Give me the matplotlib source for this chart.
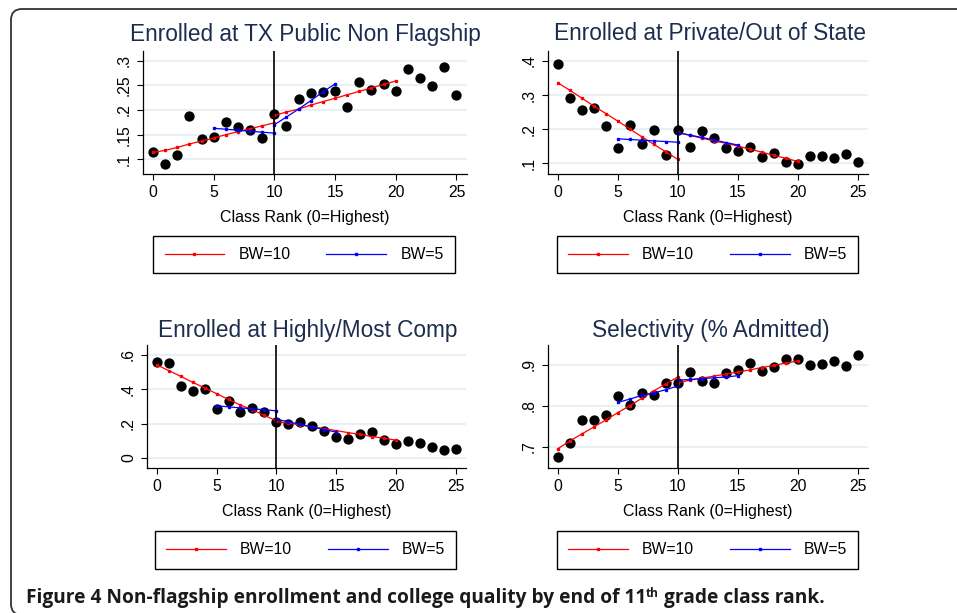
import numpy as np
import matplotlib
matplotlib.use("Agg")
import matplotlib.pyplot as plt
from matplotlib.patches import FancyBboxPatch
from matplotlib.transforms import IdentityTransform

# ---- data ----
rank = list(range(26))
rank_left10 = list(range(0, 11))
rank_right10 = list(range(10, 21))
rank_left5 = list(range(5, 11))
rank_right5 = list(range(10, 16))

titles = ["Enrolled at TX Public Non Flagship",
          "Enrolled at Private/Out of State",
          "Enrolled at Highly/Most Comp",
          "Selectivity (% Admitted)"]

# binned means (black dots)
txpublic_means = [0.114, 0.090, 0.108, 0.187, 0.142, 0.145, 0.175, 0.166, 0.160, 0.144,
                  0.191, 0.168, 0.223, 0.234, 0.236, 0.238, 0.206, 0.257, 0.240, 0.252,
                  0.238, 0.284, 0.265, 0.248, 0.288, 0.230]
private_means = [0.392, 0.292, 0.256, 0.262, 0.210, 0.146, 0.212, 0.156, 0.198, 0.124,
                 0.197, 0.149, 0.195, 0.175, 0.146, 0.136, 0.148, 0.120, 0.130, 0.105,
                 0.097, 0.121, 0.122, 0.116, 0.129, 0.103]
highcomp_means = [0.557, 0.552, 0.422, 0.393, 0.403, 0.284, 0.333, 0.267, 0.292, 0.267,
                  0.207, 0.197, 0.209, 0.188, 0.159, 0.120, 0.110, 0.141, 0.151, 0.105,
                  0.079, 0.101, 0.085, 0.066, 0.048, 0.050]
select_means = [0.674, 0.710, 0.765, 0.765, 0.778, 0.823, 0.801, 0.830, 0.827, 0.856,
                0.856, 0.883, 0.860, 0.856, 0.879, 0.887, 0.904, 0.885, 0.894, 0.915,
                0.914, 0.900, 0.902, 0.910, 0.897, 0.924]

# BW=10 fits (left of cutoff, right of cutoff)
txpublic_bw10 = ([0.114, 0.118, 0.124, 0.131, 0.137, 0.143, 0.150, 0.156, 0.162, 0.168, 0.174],
                 [0.189, 0.196, 0.202, 0.210, 0.217, 0.224, 0.231, 0.238, 0.245, 0.252, 0.259])
private_bw10 = ([0.336, 0.314, 0.291, 0.268, 0.246, 0.224, 0.201, 0.178, 0.156, 0.134, 0.112],
                [0.191, 0.182, 0.174, 0.166, 0.159, 0.151, 0.142, 0.133, 0.124, 0.115, 0.106])
highcomp_bw10 = ([0.542, 0.509, 0.476, 0.441, 0.408, 0.375, 0.341, 0.308, 0.281, 0.248, 0.217],
                 [0.213, 0.203, 0.193, 0.182, 0.171, 0.160, 0.148, 0.138, 0.125, 0.116, 0.104])
select_bw10 = ([0.695, 0.714, 0.731, 0.748, 0.765, 0.783, 0.800, 0.818, 0.836, 0.853, 0.870],
               [0.856, 0.862, 0.867, 0.872, 0.877, 0.882, 0.887, 0.893, 0.898, 0.904, 0.909])

# BW=5 fits
txpublic_bw5 = ([0.163, 0.161, 0.159, 0.157, 0.155, 0.153],
                [0.170, 0.186, 0.202, 0.219, 0.237, 0.253])
private_bw5 = ([0.172, 0.170, 0.168, 0.166, 0.164, 0.162],
               [0.190, 0.183, 0.176, 0.169, 0.161, 0.154])
highcomp_bw5 = ([0.304, 0.298, 0.292, 0.286, 0.281, 0.275],
                [0.226, 0.211, 0.196, 0.181, 0.166, 0.151])
select_bw5 = ([0.808, 0.816, 0.825, 0.831, 0.839, 0.848],
              [0.862, 0.864, 0.866, 0.868, 0.870, 0.873])

yticks = [[0.1, 0.15, 0.2, 0.25, 0.3], [0.1, 0.2, 0.3, 0.4], [0, 0.2, 0.4, 0.6], [0.7, 0.8, 0.9]]
yticklabels = [[".1", ".15", ".2", ".25", ".3"], [".1", ".2", ".3", ".4"],
               ["0", ".2", ".4", ".6"], [".7", ".8", ".9"]]
ylims = [(0.070, 0.320), (0.069, 0.429), (-0.058, 0.658), (0.648, 0.948)]
xticks = [0, 5, 10, 15, 20, 25]

means = [txpublic_means, private_means, highcomp_means, select_means]
fits10 = [txpublic_bw10, private_bw10, highcomp_bw10, select_bw10]
fits5 = [txpublic_bw5, private_bw5, highcomp_bw5, select_bw5]

# ---- layout (pixels) ----
W, H = 957, 613
plt.rcParams['font.family'] = ['Liberation Sans', 'DejaVu Sans']

fig = plt.figure(figsize=(W / 100, H / 100), dpi=100)


def rect(l, t, r, b):
    return [l / W, 1 - b / H, (r - l) / W, (b - t) / H]


axes_px = [(143, 51, 467, 174), (548, 51, 868, 174), (147, 345, 466, 468), (548, 345, 868, 468)]
title_px = [(305, 34), (710, 34), (308, 330), (711, 330)]
legend_px = [(156, 235, 452, 274), (558, 235, 857, 274), (157, 531, 454, 569), (558, 531, 857, 569)]
title_color = "#1c2d4f"

for i in range(4):
    ax = fig.add_axes(rect(*axes_px[i]))
    ax.set_axisbelow(True)
    ax.yaxis.grid(True, color="#e3edf0", lw=1.2)
    ax.scatter(rank, means[i], s=55, color="black", zorder=3, linewidths=0)
    left, right = fits10[i]
    l10, = ax.plot(rank_left10 + rank_right10, left + right, color="red", lw=0.9,
                   marker="s", ms=2.0, zorder=4, label="BW=10")
    left, right = fits5[i]
    l5, = ax.plot(rank_left5 + rank_right5, left + right, color="blue", lw=0.9,
                  marker="s", ms=2.0, zorder=5, label="BW=5")
    ax.axvline(10, color="black", lw=1.2, zorder=6)

    ax.set_xlim(-0.82, 25.87)
    ax.set_ylim(*ylims[i])
    ax.set_xticks(xticks)
    ax.set_yticks(yticks[i])
    ax.set_yticklabels(yticklabels[i], rotation=90, va="center")
    for s in ["top", "right"]:
        ax.spines[s].set_visible(False)
    for s in ["left", "bottom"]:
        ax.spines[s].set_linewidth(0.9)
    ax.tick_params(direction="out", length=4, width=0.8, labelsize=11.3, pad=4)
    ax.set_xlabel("Class Rank (0=Highest)", fontsize=11.5, labelpad=7)

    fig.text(title_px[i][0] / W, 1 - title_px[i][1] / H, titles[i], fontsize=16.3,
             color=title_color, ha="center", va="center")

    l, t, r, b = legend_px[i]
    leg = ax.legend(handles=[l10, l5], loc="center", ncol=2,
                    bbox_to_anchor=((l + r) / 2 / W, 1 - (t + b) / 2 / H),
                    bbox_transform=fig.transFigure, fontsize=11.3, handlelength=3.8,
                    handletextpad=0.9, columnspacing=2.3, borderpad=0.72, borderaxespad=0,
                    fancybox=False, edgecolor="black", framealpha=1, numpoints=1)
    leg.get_frame().set_linewidth(1.0)

# outer rounded border
fig.patches.append(FancyBboxPatch((11, -2), 1000, H - 7, boxstyle="round,pad=0,rounding_size=11",
                                  transform=IdentityTransform(), fill=False,
                                  edgecolor="#333333", lw=1.3, figure=fig))

# caption
renderer = fig.canvas.get_renderer()
cap_kw = dict(family=["Open Sans", "DejaVu Sans"], fontweight="bold", color="#1a1a1a")
parts = ["Figure 4 Non-flagship enrollment and college quality by end of 11", "th",
         " grade class rank."]
probe = [fig.text(0, 0, p, fontsize=12 * (0.62 if k == 1 else 1), **cap_kw) for k, p in enumerate(parts)]
total = sum(t.get_window_extent(renderer).width for t in probe)
for t in probe:
    t.remove()
fs = 12 * 796 / total

x = 26
y = 1 - 603 / H
for k, p in enumerate(parts):
    if k == 1:
        t = fig.text(x / W, y + 6 / H, p, fontsize=fs * 0.62, **cap_kw)
    else:
        t = fig.text(x / W, y, p, fontsize=fs, **cap_kw)
    x += t.get_window_extent(renderer).width

fig.savefig("out.png", dpi=100)
